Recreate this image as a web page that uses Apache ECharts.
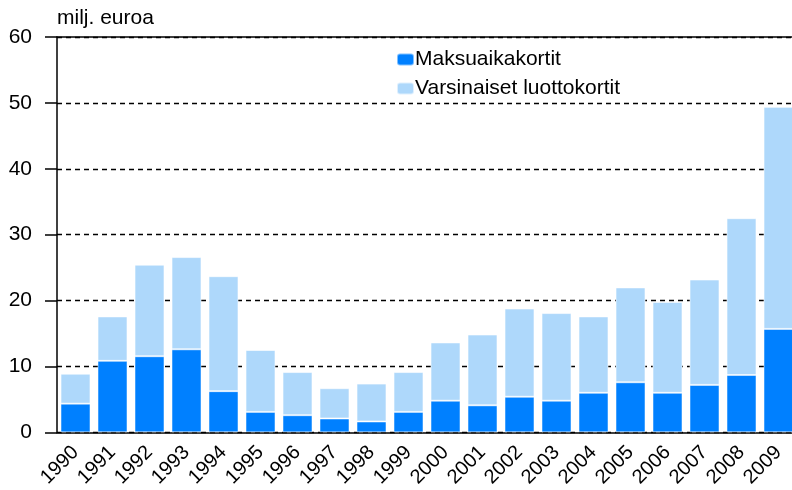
<!DOCTYPE html>
<html>
<head>
<meta charset="utf-8">
<script src="https://cdn.jsdelivr.net/npm/echarts@6/dist/echarts.min.js"></script>
<style>html,body{margin:0;padding:0;background:#fff;overflow:hidden}#wrap{width:792px;height:490px;overflow:hidden;position:relative}#c{width:797px;height:490px}</style>
</head>
<body>
<div id="wrap"><div id="c"></div></div>
<script>
var years = ['1990','1991','1992','1993','1994','1995','1996','1997','1998','1999','2000','2001','2002','2003','2004','2005','2006','2007','2008','2009'];
var maksuaika = [4.35, 10.85, 11.55, 12.6, 6.25, 3.1, 2.6, 2.1, 1.65, 3.1, 4.8, 4.1, 5.4, 4.8, 6.0, 7.6, 6.0, 7.2, 8.7, 15.7];
var luotto = [4.55, 6.75, 13.9, 14.0, 17.45, 9.4, 6.55, 4.6, 5.75, 6.05, 8.85, 10.75, 13.4, 13.3, 11.6, 14.4, 13.8, 16.0, 23.8, 33.7];
var seriesNames = ['Maksuaikakortit', 'Varsinaiset luottokortit'];
var unitLabel = 'milj. euroa';

var FONT = 'Liberation Sans';
var chart = echarts.init(document.getElementById('c'), null, {renderer: 'canvas'});
chart.setOption({
  animation: false,
  backgroundColor: '#fff',
  textStyle: {fontFamily: FONT, color: '#000'},
  grid: {left: 57, right: 0, top: 37, bottom: 57},
  legend: {
    orient: 'vertical', left: 391, top: 44,
    itemWidth: 17, itemHeight: 12, itemGap: 8,
    textStyle: {fontFamily: FONT, fontSize: 21, color: '#000', padding: [0,0,0,-4]},
    data: seriesNames
  },
  xAxis: [{
    type: 'category', data: years,
    axisLine: {lineStyle: {color: '#000', width: 1.5}},
    axisTick: {show: false},
    axisLabel: {rotate: 45, fontSize: 20, color: '#000', fontFamily: FONT, margin: 17, interval: 0}
  }, {
    type: 'category', data: years, position: 'top',
    axisLine: {show: true, lineStyle: {color: '#000', width: 1.5}},
    axisTick: {show: false}, axisLabel: {show: false}
  }],
  yAxis: {
    type: 'value', min: 0, max: 60, interval: 10,
    name: unitLabel, nameLocation: 'end', nameGap: 8,
    nameTextStyle: {align: 'left', verticalAlign: 'bottom', fontSize: 21, color: '#000', fontFamily: FONT},
    axisLine: {show: true, lineStyle: {color: '#000', width: 1.5}},
    axisTick: {show: true, inside: false, length: 12, lineStyle: {color: '#000', width: 1.5}},
    axisLabel: {fontSize: 21, color: '#000', fontFamily: FONT, margin: 25},
    splitLine: {show: true, lineStyle: {color: '#000', width: 1.3, type: [5, 4]}}
  },
  series: [{
    name: seriesNames[0], type: 'bar', stack: 'a', data: maksuaika, barWidth: 30,
    itemStyle: {color: '#0080FF', borderColor: 'rgba(255,255,255,0.5)', borderWidth: 1}
  }, {
    name: seriesNames[1], type: 'bar', stack: 'a', data: luotto, barWidth: 30,
    itemStyle: {color: '#AED8FB', borderColor: 'rgba(255,255,255,0.6)', borderWidth: 1}
  }]
});
</script>
</body>
</html>
